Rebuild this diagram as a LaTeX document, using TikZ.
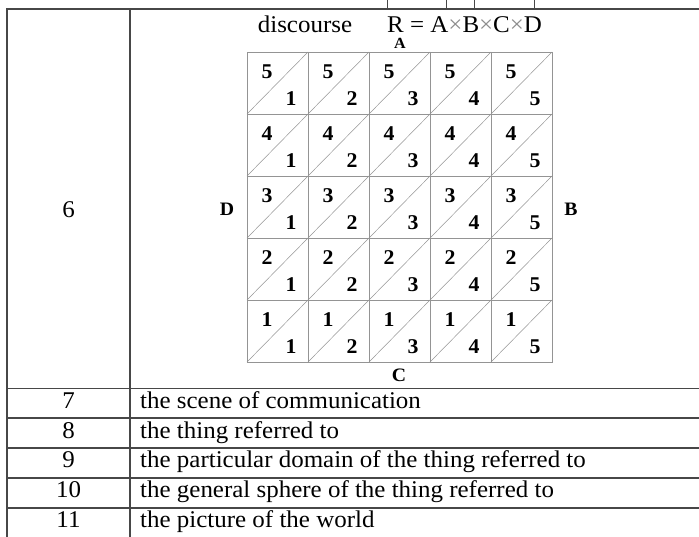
\documentclass[tikz,border=0pt]{standalone}
\usepackage{fontspec}
\setmainfont{Liberation Serif}
\newfontfamily\tabfont[FakeStretch=1.04]{Liberation Serif}
\begin{document}
\begin{tikzpicture}[x=1pt,y=-1pt,
  rule/.style={line width=1.4pt, draw=black!72},
  tick/.style={line width=1pt, draw=black!72},
  gridline/.style={line width=0.8pt, draw=black!42},
  diag/.style={line width=0.5pt, draw=black!42},
  body/.style={font=\tabfont\fontsize{24}{27}\selectfont, inner sep=0pt},
  cellnum/.style={font=\tabfont\fontsize{21}{24}\selectfont\bfseries, inner sep=0pt},
  axis/.style={font=\tabfont\fontsize{19}{21}\selectfont\bfseries, inner sep=0pt},
  small/.style={font=\tabfont\fontsize{15.5}{17}\selectfont\bfseries, inner sep=0pt}]
\useasboundingbox (0,0) rectangle (699,536);

% table frame
\draw[rule] (7,540) -- (7,9) -- (699,9);
\draw[rule] (130,9) -- (130,540);
\foreach \y in {388.5,418,448,478,508}
  \draw[rule] (7,\y) -- (699,\y);
% cell dividers of the row above
\foreach \x in {387,446,474,534}
  \draw[tick] (\x,0) -- (\x,9);

% row 6: heading and the A x B x C x D grid
\node[body, anchor=base] (n6) at (68.5,217) {6};
\node[body, anchor=base] (disc) at (305,32) {discourse};
\node[body, anchor=base west] (rel) at (387,32)
  {R = A{\color{black!45}×}B{\color{black!45}×}C{\color{black!45}×}D};
\node[small, anchor=base] (la) at (400,48) {A};
\node[axis] (ld) at (227,209) {D};
\node[axis] (lb) at (571,209.5) {B};
\node[axis] (lc) at (399,375) {C};

\foreach \c in {0,...,4}{
  \foreach \r in {0,...,4}{
    \pgfmathsetmacro{\xa}{247+61*\c}
    \pgfmathsetmacro{\ya}{52+62*\r}
    \pgfmathtruncatemacro{\tl}{5-\r}
    \pgfmathtruncatemacro{\br}{\c+1}
    \draw[gridline] (\xa,\ya) rectangle ++(61,62);
    \draw[diag] (\xa,\ya+62) -- ++(61,-62);
    \node[cellnum] (t-\r-\c) at (\xa+20,\ya+20) {\tl};
    \node[cellnum] (b-\r-\c) at (\xa+44,\ya+47) {\br};
  }
}

% rows 7 to 11
\node[body, anchor=base] (n7) at (68.5,408.5) {7};
\node[body, anchor=base west] (t7) at (140,408.5) {the scene of communication};
\node[body, anchor=base] (n8) at (68.5,438) {8};
\node[body, anchor=base west] (t8) at (140,438) {the thing referred to};
\node[body, anchor=base] (n9) at (68.5,467.5) {9};
\node[body, anchor=base west] (t9) at (140,467.5) {the particular domain of the thing referred to};
\node[body, anchor=base] (n10) at (68.5,497.5) {10};
\node[body, anchor=base west] (t10) at (140,497.5) {the general sphere of the thing referred to};
\node[body, anchor=base] (n11) at (68.5,527.5) {11};
\node[body, anchor=base west] (t11) at (140,527.5) {the picture of the world};
\end{tikzpicture}
\end{document}
